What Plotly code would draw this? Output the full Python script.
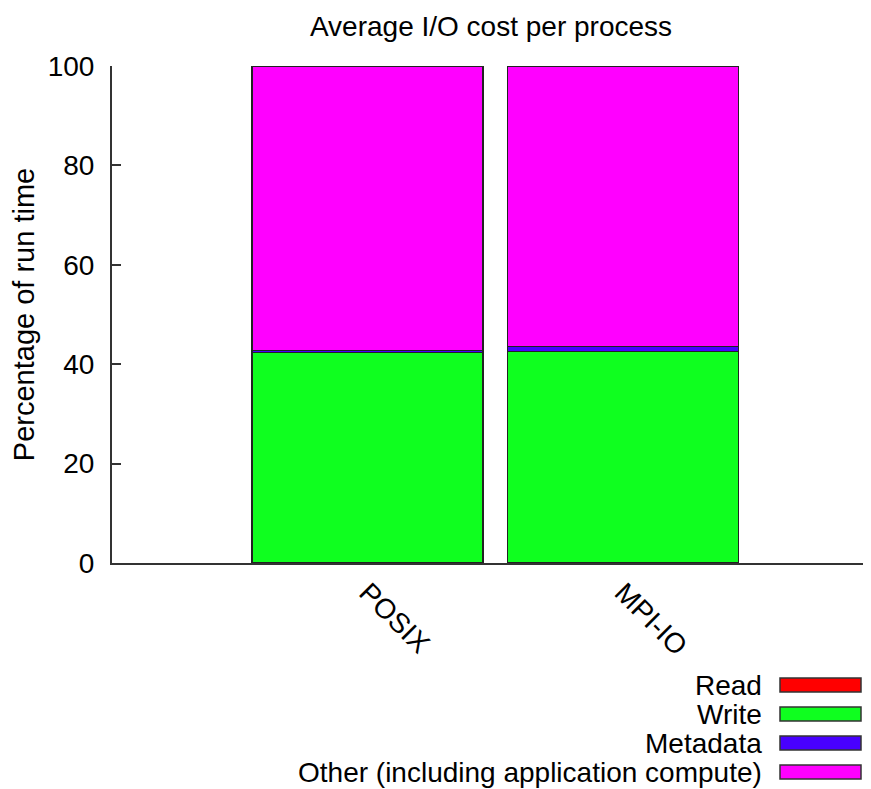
import plotly.graph_objects as go

categories = ["POSIX", "MPI-IO"]
series_names = ["Read", "Write", "Metadata", "Other (including application compute)"]
read_vals = [0.0, 0.0]
write_vals = [42.3, 42.6]
meta_vals = [0.5, 1.0]
other_vals = [57.2, 56.4]
colors = ["#ff0000", "#0fff1f", "#4800ff", "#ff00ff"]
y_ticks = [0, 20, 40, 60, 80, 100]

FONT = "Liberation Sans, Arial, Helvetica, sans-serif"
OFF = 8  # page body margin
W, H = 871 - OFF, 789 - OFF
L, R, T, B = 112 - OFF, 870 - OFF, 66 - OFF, 563 - OFF

fig = go.Figure()
for name, vals, col in zip(series_names, [read_vals, write_vals, meta_vals, other_vals], colors):
    fig.add_trace(go.Bar(
        x=categories, y=vals, name=name, marker_color=col,
        marker_line_color="#222222", marker_line_width=1.2,
        showlegend=False,
    ))

def px_x(x):
    return (x - OFF - L) / (R - L)

def px_y(y):
    return (B - (y - OFF)) / (B - T)

rows_y = [685, 714, 743, 772]
for name, col, yy in zip(series_names, colors, rows_y):
    fig.add_annotation(x=px_x(764), y=px_y(yy), xref="paper", yref="paper",
                       text=name, showarrow=False, xanchor="right", yanchor="middle",
                       font=dict(family=FONT, size=28, color="#000000"))
    fig.add_shape(type="rect", xref="paper", yref="paper",
                  x0=px_x(780), x1=px_x(861), y0=px_y(yy + 7), y1=px_y(yy - 7),
                  fillcolor=col, line=dict(color="#333333", width=1.5))

fig.update_layout(
    width=W, height=H,
    margin=dict(l=L, r=W - R, t=T, b=H - B),
    barmode="stack", bargap=0.096,
    plot_bgcolor="white", paper_bgcolor="white",
    font=dict(family=FONT, size=28, color="#000000"),
    title=dict(text="Average I/O cost per process", x=0.5, xref="paper",
               y=1 - (26 - OFF) / H, yref="container", xanchor="center", yanchor="middle",
               font=dict(family=FONT, size=28, color="#000000")),
)
fig.update_xaxes(type="category", range=[-1.0, 1.967], showline=True,
                 linecolor="#333333", linewidth=2, ticks="", tickangle=45,
                 showgrid=False, zeroline=False, ticklabelstandoff=0,
                 tickfont=dict(family=FONT, size=28, color="#000000"))
fig.update_yaxes(range=[0, 100], tickvals=y_ticks, showline=True,
                 linecolor="#333333", linewidth=2, ticks="inside", ticklen=9,
                 tickwidth=1.5, tickcolor="#333333", showgrid=False, zeroline=False,
                 ticklabelstandoff=10,
                 tickfont=dict(family=FONT, size=28, color="#000000"),
                 title=dict(text="Percentage of run time", standoff=6,
                            font=dict(family=FONT, size=29, color="#000000")))

fig.write_html("out.html")
